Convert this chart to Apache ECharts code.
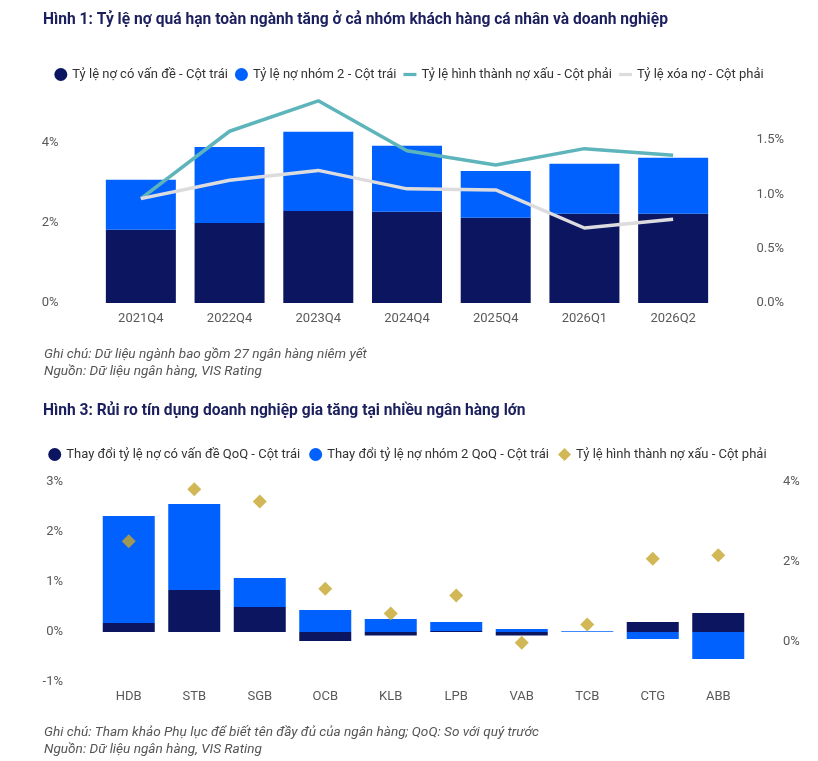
<!DOCTYPE html>
<html>
<head>
<meta charset="utf-8">
<title>Nợ quá hạn</title>
<script src="https://cdn.jsdelivr.net/npm/echarts@6/dist/echarts.min.js"></script>
<style>
  html, body { margin: 0; padding: 0; background: #fff; }
  #main { width: 818px; height: 761px; }
</style>
</head>
<body>
<div id="main"></div>
<script>
// Hình 1 - toàn ngành
var quarters = ['2021Q4', '2022Q4', '2023Q4', '2024Q4', '2025Q4', '2026Q1', '2026Q2'];
var noCoVanDe = [1.83, 2.00, 2.30, 2.28, 2.13, 2.23, 2.23];
var noNhom2 = [1.25, 1.90, 1.98, 1.65, 1.17, 1.25, 1.40];
var hinhThanhNoXau = [0.96, 1.58, 1.86, 1.40, 1.27, 1.42, 1.36];
var xoaNo = [0.96, 1.13, 1.22, 1.05, 1.04, 0.69, 0.77];

// Hình 3 - theo ngân hàng
var banks = ['HDB', 'STB', 'SGB', 'OCB', 'KLB', 'LPB', 'VAB', 'TCB', 'CTG', 'ABB'];
var doiNoCoVanDe = [0.18, 0.84, 0.50, -0.18, -0.07, 0.02, -0.07, 0, 0.20, 0.38];
var doiNoNhom2 = [2.14, 1.72, 0.58, 0.44, 0.26, 0.18, 0.06, 0.015, -0.14, -0.54];
var tyLeNoXau = [2.52, 3.82, 3.51, 1.33, 0.71, 1.16, -0.02, 0.44, 2.08, 2.17];

var navy = '#0b1560';
var blue = '#0061fe';
var teal = '#5db5bb';
var grey = '#dcdcdf';
var gold = '#c6a52a';
var font = 'Roboto';
var labelColor = '#595959';
var lineIcon = 'path://M0,0h12v3h-12z'; // icon ngắn cho đường

var myChart = echarts.init(document.getElementById('main'));

function axisText() {
	return { color: labelColor, fontSize: 13, fontFamily: font };
}

var option = {
	backgroundColor: '#fff',
	animation: false,
	title: [{
		text: 'Hình 1: Tỷ lệ nợ quá hạn toàn ngành tăng ở cả nhóm khách hàng cá nhân và doanh nghiệp',
		left: 38, top: 7,
		textStyle: { color: '#1b1f5e', fontSize: 15.6, fontWeight: 'bold', fontFamily: font }
	}, {
		text: 'Ghi chú: Dữ liệu ngành bao gồm 27 ngân hàng niêm yết\nNguồn: Dữ liệu ngân hàng, VIS Rating',
		left: 39, top: 341,
		textStyle: { color: '#555', fontSize: 13.6, fontStyle: 'italic', fontWeight: 'normal', fontFamily: font, lineHeight: 17 }
	}, {
		text: 'Hình 3: Rủi ro tín dụng doanh nghiệp gia tăng tại nhiều ngân hàng lớn',
		left: 38, top: 398,
		textStyle: { color: '#1b1f5e', fontSize: 15.6, fontWeight: 'bold', fontFamily: font }
	}, {
		text: 'Ghi chú: Tham khảo Phụ lục để biết tên đầy đủ của ngân hàng; QoQ: So với quý trước\nNguồn: Dữ liệu ngân hàng, VIS Rating',
		left: 39, top: 719,
		textStyle: { color: '#555', fontSize: 13.6, fontStyle: 'italic', fontWeight: 'normal', fontFamily: font, lineHeight: 17 }
	}],
	legend: [{
		top: 63, left: 'center',
		itemWidth: 13, itemHeight: 13, itemGap: 7,
		textStyle: { color: '#333', fontSize: 13, fontFamily: font },
		data: [
			{ name: 'Tỷ lệ nợ có vấn đề - Cột trái', icon: 'circle' },
			{ name: 'Tỷ lệ nợ nhóm 2 - Cột trái', icon: 'circle' },
			{ name: 'Tỷ lệ hình thành nợ xấu - Cột phải', icon: lineIcon },
			{ name: 'Tỷ lệ xóa nợ - Cột phải', icon: lineIcon }
		]
	}, {
		top: 443, left: 'center',
		itemWidth: 13, itemHeight: 13, itemGap: 9,
		textStyle: { color: '#333', fontSize: 13, fontFamily: font },
		data: [
			{ name: 'Thay đổi tỷ lệ nợ có vấn đề QoQ - Cột trái', icon: 'circle' },
			{ name: 'Thay đổi tỷ lệ nợ nhóm 2 QoQ - Cột trái', icon: 'circle' },
			{ name: 'Tỷ lệ hình thành nợ xấu - Cột phải ', icon: 'diamond' }
		]
	}],
	grid: [
		{ left: 96.5, right: 100.5, top: 98, bottom: 458 },
		{ left: 96, right: 67, top: 482, bottom: 79 }
	],
	xAxis: [{
		type: 'category', gridIndex: 0, data: quarters,
		axisLine: { show: false }, axisTick: { show: false },
		axisLabel: Object.assign(axisText(), { margin: 9 })
	}, {
		type: 'category', gridIndex: 1, data: banks,
		axisLine: { show: false, onZero: false }, axisTick: { show: false },
		axisLabel: Object.assign(axisText(), { margin: 8 })
	}],
	yAxis: [{
		type: 'value', gridIndex: 0, min: 0, max: 5.125, interval: 2,
		splitLine: { show: false },
		axisLabel: Object.assign(axisText(), {
			margin: 38, showMaxLabel: false,
			formatter: function (v) { return v + '%'; }
		})
	}, {
		type: 'value', gridIndex: 0, min: 0, max: 1.886, interval: 0.5,
		position: 'right', splitLine: { show: false },
		axisLabel: Object.assign(axisText(), {
			margin: 39, showMaxLabel: false,
			formatter: function (v) { return v.toFixed(1) + '%'; }
		})
	}, {
		type: 'value', gridIndex: 1, min: -1, max: 3, interval: 1,
		splitLine: { show: false },
		axisLabel: Object.assign(axisText(), {
			margin: 33,
			formatter: function (v) { return v + '%'; }
		})
	}, {
		type: 'value', gridIndex: 1, min: -1, max: 4, interval: 1,
		position: 'right', splitLine: { show: false },
		axisLabel: Object.assign(axisText(), {
			margin: 32,
			formatter: function (v) { return (v % 2 === 0) ? v + '%' : ''; }
		})
	}],
	series: [{
		name: 'Tỷ lệ nợ có vấn đề - Cột trái',
		type: 'bar', stack: 'toan', barWidth: 70,
		xAxisIndex: 0, yAxisIndex: 0,
		itemStyle: { color: navy },
		data: noCoVanDe
	}, {
		name: 'Tỷ lệ nợ nhóm 2 - Cột trái',
		type: 'bar', stack: 'toan', barWidth: 70,
		xAxisIndex: 0, yAxisIndex: 0,
		itemStyle: { color: blue },
		data: noNhom2
	}, {
		name: 'Tỷ lệ hình thành nợ xấu - Cột phải',
		type: 'line', symbol: 'none', clip: false,
		xAxisIndex: 0, yAxisIndex: 1,
		lineStyle: { color: teal, width: 3.5 },
		itemStyle: { color: teal },
		data: hinhThanhNoXau
	}, {
		name: 'Tỷ lệ xóa nợ - Cột phải',
		type: 'line', symbol: 'none', clip: false,
		xAxisIndex: 0, yAxisIndex: 1,
		lineStyle: { color: grey, width: 3.5 },
		itemStyle: { color: grey },
		data: xoaNo
	}, {
		name: 'Thay đổi tỷ lệ nợ có vấn đề QoQ - Cột trái',
		type: 'bar', stack: 'bank', barWidth: 52,
		xAxisIndex: 1, yAxisIndex: 2,
		itemStyle: { color: navy },
		data: doiNoCoVanDe
	}, {
		name: 'Thay đổi tỷ lệ nợ nhóm 2 QoQ - Cột trái',
		type: 'bar', stack: 'bank', barWidth: 52,
		xAxisIndex: 1, yAxisIndex: 2,
		itemStyle: { color: blue },
		data: doiNoNhom2
	}, {
		name: 'Tỷ lệ hình thành nợ xấu - Cột phải ',
		type: 'scatter', symbol: 'diamond', symbolSize: 14,
		xAxisIndex: 1, yAxisIndex: 3,
		itemStyle: { color: gold },
		data: tyLeNoXau
	}]
};

myChart.setOption(option);
</script>
</body>
</html>
